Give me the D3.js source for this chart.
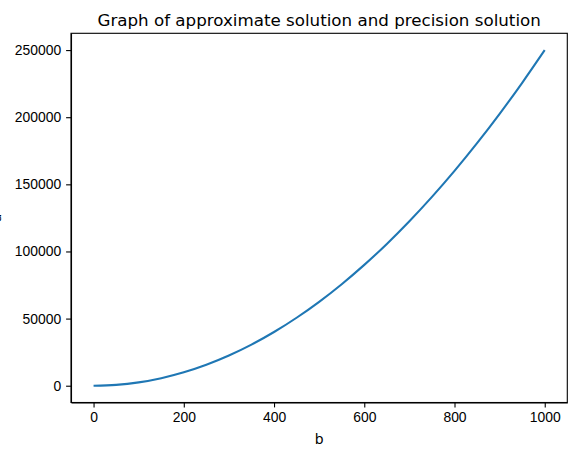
<!DOCTYPE html>
<html>
<head>
<meta charset="utf-8">
<script src="https://cdn.jsdelivr.net/npm/d3@7"></script>
<style>
  body { margin: 0; background: #fff; }
  svg { display: block; font-family: "DejaVu Sans", sans-serif; }
  .tick text { font-size: 13.9px; fill: #000; }
  .tick line, .domain { stroke: #000; stroke-width: 1.1px; }
</style>
</head>
<body>
<div id="chart"></div>
<script>
// values
const bValues = [0, 50, 100, 150, 200, 250, 300, 350, 400, 450, 500,
                 550, 600, 650, 700, 750, 800, 850, 900, 950, 1000];
const aValues = [0, 625, 2500, 5625, 10000, 15625, 22500, 30625, 40000, 50625, 62500,
                 75625, 90000, 105625, 122500, 140625, 160000, 180625, 202500, 225625, 250000];
const xTicks = [0, 200, 400, 600, 800, 1000];
const yTicks = [0, 50000, 100000, 150000, 200000, 250000];
const titleText = "Graph of approximate solution and precision solution";
const xLabel = "b";
const yLabel = "a";

const data = bValues.map((b, i) => ({b: b, a: aValues[i]}));

const W = 588, H = 453;
const margin = {top: 33.3, right: 20.7, bottom: 50.5, left: 71},
      width = W - margin.left - margin.right,
      height = H - margin.top - margin.bottom;

// matplotlib style 5% margins
const x = d3.scaleLinear()
    .domain([-50, 1050])
    .range([0, width]);

const y = d3.scaleLinear()
    .domain([-12500, 262500])
    .range([height, 0]);

const svg = d3.select("#chart").append("svg")
    .attr("width", W)
    .attr("height", H)
    .append("g")
    .attr("transform", "translate(" + margin.left + "," + margin.top + ")");

const line = d3.line()
    .x(d => x(d.b))
    .y(d => y(d.a))
    .curve(d3.curveMonotoneX);

svg.append("path")
    .datum(data)
    .attr("d", line)
    .attr("fill", "none")
    .attr("stroke", "#1f77b4")
    .attr("stroke-width", 2.08);

// axes
svg.append("g")
    .attr("transform", "translate(0," + height + ")")
    .call(d3.axisBottom(x).tickValues(xTicks).tickSizeInner(4.9).tickSizeOuter(0).tickPadding(4.9).tickFormat(d3.format("d")));

svg.append("g")
    .call(d3.axisLeft(y).tickValues(yTicks).tickSizeInner(4.9).tickSizeOuter(0).tickPadding(4.9).tickFormat(d3.format("d")));

// frame
svg.append("rect")
    .attr("width", width)
    .attr("height", height)
    .attr("fill", "none")
    .attr("stroke", "#000")
    .attr("stroke-width", 1.1);

// title
svg.append("text")
    .attr("x", width / 2)
    .attr("y", -7.6)
    .attr("text-anchor", "middle")
    .style("font-size", "16.7px")
    .text(titleText);

// x label
svg.append("text")
    .attr("x", width / 2)
    .attr("y", height + 41.5)
    .attr("text-anchor", "middle")
    .style("font-size", "13.9px")
    .text(xLabel);

// y label, mostly cut off at the page edge as in the reference
svg.append("text")
    .attr("transform", "translate(" + (0.6 - margin.left) + "," + (height / 2) + ") rotate(-90)")
    .attr("text-anchor", "middle")
    .style("font-size", "13.9px")
    .text(yLabel);
</script>
</body>
</html>
